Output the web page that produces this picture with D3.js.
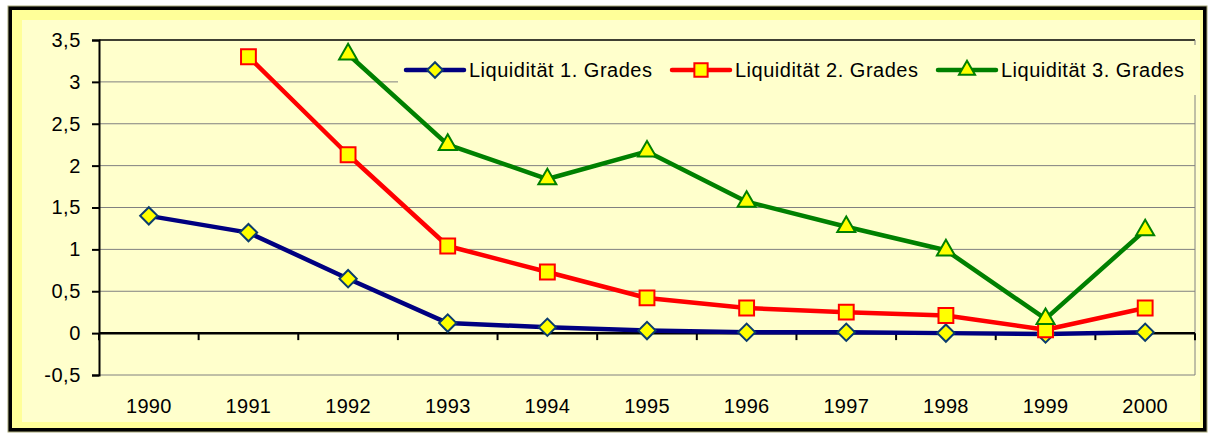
<!DOCTYPE html>
<html>
<head>
<meta charset="utf-8">
<script src="https://cdn.jsdelivr.net/npm/d3@7"></script>
<style>
  body { margin: 0; background: #ffffff; }
  svg text { font-family: "Liberation Sans", Arial, sans-serif; fill: #000; }
</style>
</head>
<body>
<svg id="chart" width="1211" height="434"></svg>
<script>
var years = ["1990", "1991", "1992", "1993", "1994", "1995", "1996", "1997", "1998", "1999", "2000"];
var liq1 = [1.4, 1.2, 0.65, 0.12, 0.07, 0.03, 0.01, 0.01, 0.0, -0.01, 0.01];
var liq2 = [null, 3.3, 2.13, 1.04, 0.73, 0.42, 0.3, 0.25, 0.21, 0.04, 0.3];
var liq3 = [null, null, 3.33, 2.25, 1.84, 2.17, 1.57, 1.27, 0.99, 0.17, 1.23];
var yTicks = [-0.5, 0, 0.5, 1, 1.5, 2, 2.5, 3, 3.5];
var seriesNames = ["Liquidität 1. Grades", "Liquidität 2. Grades", "Liquidität 3. Grades"];

var svg = d3.select("#chart");

// frame
svg.append("rect")
  .attr("x", 10).attr("y", 8).attr("width", 1195).attr("height", 422)
  .attr("fill", "#ffff99").attr("stroke", "#000").attr("stroke-width", 4);
svg.append("rect")
  .attr("x", 8).attr("y", 6).attr("width", 1199).attr("height", 426)
  .attr("fill", "none").attr("stroke", "#a8a878").attr("stroke-width", 1);
svg.append("rect")
  .attr("x", 22).attr("y", 20).attr("width", 1178).attr("height", 402)
  .attr("fill", "#ffffcc");

var plotLeft = 99, plotRight = 1195, plotTop = 40, plotBottom = 375;

var x = d3.scaleBand().domain(years).range([plotLeft, plotRight]).padding(0);
var y = d3.scaleLinear().domain([-0.5, 3.5]).range([plotBottom, plotTop]);
var cx = function (yr) { return x(yr) + x.bandwidth() / 2; };

// gridlines
svg.append("g").selectAll("line")
  .data(yTicks.filter(function (t) { return t !== 0; }))
  .enter().append("line")
  .attr("x1", plotLeft).attr("x2", plotRight)
  .attr("y1", function (d) { return y(d); })
  .attr("y2", function (d) { return y(d); })
  .attr("stroke", function (d) { return d === 3.5 ? "#000" : "#808080"; })
  .attr("stroke-width", function (d) { return d === 3.5 ? 1.5 : 1; });

// right border
svg.append("line")
  .attr("x1", plotRight).attr("x2", plotRight).attr("y1", plotTop).attr("y2", plotBottom)
  .attr("stroke", "#808080").attr("stroke-width", 1);

// y axis
var yAxis = d3.axisLeft(y).tickValues(yTicks).tickSize(7).tickPadding(11)
  .tickFormat(function (d) { return String(d).replace(".", ","); });
var gy = svg.append("g").attr("transform", "translate(" + plotLeft + ",0)").call(yAxis);
gy.select(".domain").attr("stroke", "#000").attr("stroke-width", 2);
gy.selectAll(".tick line").attr("stroke", "#000").attr("stroke-width", 2);
gy.selectAll("text").attr("font-size", 20).attr("font-family", "Liberation Sans, Arial, sans-serif")
  .attr("letter-spacing", 0.6);

// x axis at zero
var gx = svg.append("g").attr("transform", "translate(0," + y(0) + ")");
gx.append("line").attr("x1", plotLeft).attr("x2", plotRight).attr("stroke", "#000").attr("stroke-width", 2.5);
gx.selectAll(".xt").data(years.concat(["end"])).enter().append("line")
  .attr("class", "xt")
  .attr("x1", function (d) { return d === "end" ? plotRight : x(d); })
  .attr("x2", function (d) { return d === "end" ? plotRight : x(d); })
  .attr("y1", 0).attr("y2", 7)
  .attr("stroke", "#000").attr("stroke-width", 2);

svg.append("g").selectAll("text").data(years).enter().append("text")
  .attr("x", function (d) { return cx(d); })
  .attr("y", 413)
  .attr("text-anchor", "middle")
  .attr("font-size", 20)
  .attr("letter-spacing", 0.3)
  .text(function (d) { return d; });

// series
var styles = [
  { color: "#000080", edge: "#0b3d6e", sym: d3.symbolSquare, size: 150, rot: 45 },
  { color: "#ff0000", edge: "#ff0000", sym: d3.symbolSquare, size: 220, rot: 0 },
  { color: "#008000", edge: "#008000", sym: d3.symbolTriangle, size: 140, rot: 0 }
];
var allSeries = [liq1, liq2, liq3];

allSeries.forEach(function (vals, i) {
  var st = styles[i];
  var pts = years.map(function (yr, j) { return { yr: yr, v: vals[j] }; })
    .filter(function (p) { return p.v !== null; });
  var line = d3.line().x(function (p) { return cx(p.yr); }).y(function (p) { return y(p.v); });
  var g = svg.append("g");
  g.append("path").datum(pts).attr("d", line)
    .attr("fill", "none").attr("stroke", st.color).attr("stroke-width", 4.5)
    .attr("stroke-linejoin", "round");
  g.selectAll("path.m").data(pts).enter().append("path")
    .attr("class", "m")
    .attr("d", d3.symbol().type(st.sym).size(st.size))
    .attr("transform", function (p) {
      return "translate(" + cx(p.yr) + "," + y(p.v) + ") rotate(" + st.rot + ")";
    })
    .attr("fill", "#ffff00").attr("stroke", st.edge).attr("stroke-width", 2);
});

// legend
var legend = svg.append("g");
legend.append("rect").attr("x", 398).attr("y", 45).attr("width", 800).attr("height", 50)
  .attr("fill", "#ffffcc");
var legX = [406, 672, 938];
seriesNames.forEach(function (name, i) {
  var st = styles[i];
  var g = legend.append("g").attr("transform", "translate(" + legX[i] + ",70)");
  g.append("line").attr("x1", 0).attr("x2", 58).attr("y1", 0).attr("y2", 0)
    .attr("stroke", st.color).attr("stroke-width", 4.5).attr("stroke-linecap", "round");
  g.append("path")
    .attr("d", d3.symbol().type(st.sym).size(st.size * 0.8))
    .attr("transform", "translate(29,0) rotate(" + st.rot + ")")
    .attr("fill", "#ffff00").attr("stroke", st.edge).attr("stroke-width", 2);
  g.append("text").attr("x", 63).attr("y", 7).attr("font-size", 20)
    .attr("letter-spacing", 0.5)
    .text(name);
});
</script>
</body>
</html>
